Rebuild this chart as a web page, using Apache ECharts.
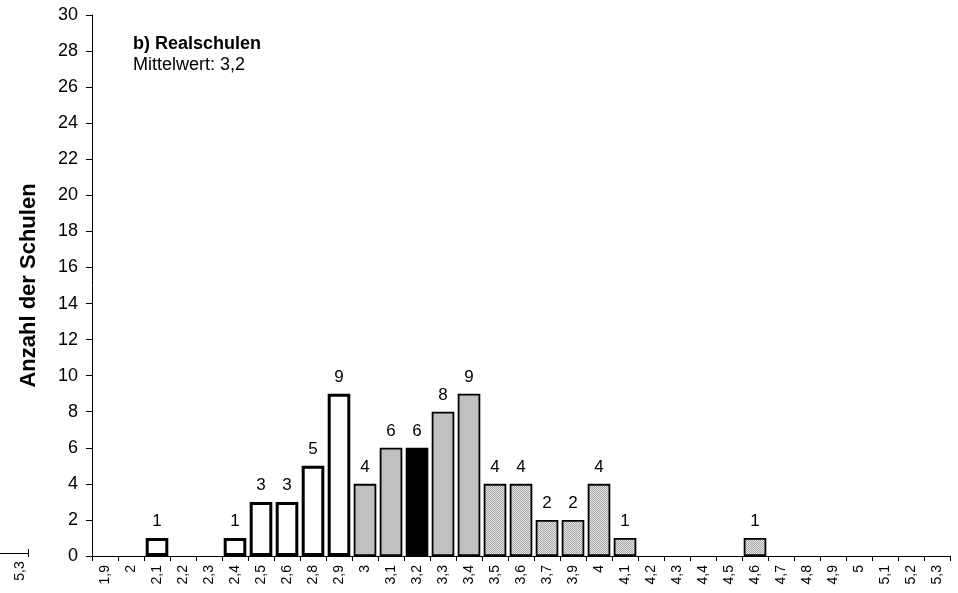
<!DOCTYPE html>
<html>
<head>
<meta charset="utf-8">
<script src="https://cdn.jsdelivr.net/npm/echarts@6/dist/echarts.min.js"></script>
<style>
html,body{margin:0;padding:0;background:#fff;}
#chart{width:958px;height:593px;}
</style>
</head>
<body>
<div id="chart"></div>
<script>
// ---- data ----
var categories = ['1,9','2','2,1','2,2','2,3','2,4','2,5','2,6','2,8','2,9','3','3,1','3,2','3,3','3,4','3,5','3,6','3,7','3,9','4','4,1','4,2','4,3','4,4','4,5','4,6','4,7','4,8','4,9','5','5,1','5,2','5,3'];
var values =     [0,0,1,0,0,1,3,3,5,9,4,6,6,8,9,4,4,2,2,4,1,0,0,0,0,1,0,0,0,0,0,0,0];
// group of each category: below mean range, middle range, mean, above range
var groups =     ['low','low','low','low','low','low','low','low','low','low','mid','mid','mean','mid','mid','high','high','high','high','high','high','high','high','high','high','high','high','high','high','high','high','high','high'];
var yTicks = [0,2,4,6,8,10,12,14,16,18,20,22,24,26,28,30];
var titleText = 'b) Realschulen';
var subText = 'Mittelwert: 3,2';
var yAxisName = 'Anzahl der Schulen';

// dotted pattern
var pc = document.createElement('canvas');
pc.width = 2; pc.height = 2;
var pctx = pc.getContext('2d');
pctx.fillStyle = '#e4e4e4'; pctx.fillRect(0,0,2,2);
pctx.fillStyle = '#a8a8a8'; pctx.fillRect(0,0,1,1); pctx.fillRect(1,1,1,1);

var styles = {
  low:  {color:'#ffffff', borderColor:'#000', borderWidth:3},
  mid:  {color:'#c0c0c0', borderColor:'#000', borderWidth:1.8},
  mean: {color:'#000000', borderColor:'#000', borderWidth:1.8},
  high: {color:{image:pc, repeat:'repeat'}, borderColor:'#000', borderWidth:1.8}
};

var seriesData = values.map(function(v,i){
  if (v === 0) return {value:v, itemStyle:{opacity:0, borderWidth:0}};
  return {value:v, itemStyle:styles[groups[i]]};
});

var FONT = '"Liberation Sans", Arial, sans-serif';
var chart = echarts.init(document.getElementById('chart'), null, {renderer:'canvas'});
chart.setOption({
  animation:false,
  backgroundColor:'#fff',
  grid:{left:92, right:8, top:15, bottom:37, containLabel:false},
  xAxis:{
    type:'category',
    data:categories,
    axisLine:{lineStyle:{color:'#000', width:1}},
    axisTick:{show:true, length:5, lineStyle:{color:'#000'}},
    axisLabel:{rotate:90, color:'#000', fontFamily:FONT, fontSize:14, margin:9, interval:0},
    splitLine:{show:false}
  },
  yAxis:{
    type:'value',
    min:yTicks[0], max:yTicks[yTicks.length-1], interval:yTicks[1]-yTicks[0],
    name:yAxisName,
    nameLocation:'middle',
    nameGap:52,
    nameRotate:90,
    nameTextStyle:{color:'#000', fontFamily:FONT, fontSize:22, fontWeight:'bold'},
    axisLine:{show:true, lineStyle:{color:'#000', width:1}},
    axisTick:{show:true, length:6, lineStyle:{color:'#000'}},
    axisLabel:{color:'#000', fontFamily:FONT, fontSize:18, margin:14},
    splitLine:{show:false}
  },
  series:[{
    type:'bar',
    data:seriesData,
    barCategoryGap:'13%',
    label:{
      show:true, position:'top', distance:8,
      color:'#000', fontFamily:FONT, fontSize:17,
      formatter:function(p){ return p.value > 0 ? String(p.value) : ''; }
    }
  }],
  graphic:[
    {type:'text', left:133, top:35, style:{text:titleText, fill:'#000', font:'bold 18px '+FONT}},
    {type:'text', left:133, top:56, style:{text:subText, fill:'#000', font:'18px '+FONT}},
    // fragment of the neighbouring chart at the left edge
    {type:'line', shape:{x1:0, y1:553.5, x2:28.5, y2:553.5}, style:{stroke:'#000', lineWidth:1}},
    {type:'line', shape:{x1:28.5, y1:549, x2:28.5, y2:557}, style:{stroke:'#000', lineWidth:1}},
    {type:'text', x:20, y:571, rotation:Math.PI/2, style:{text:'5,3', fill:'#000', font:'14px '+FONT, align:'center', verticalAlign:'middle'}}
  ]
});
</script>
</body>
</html>
